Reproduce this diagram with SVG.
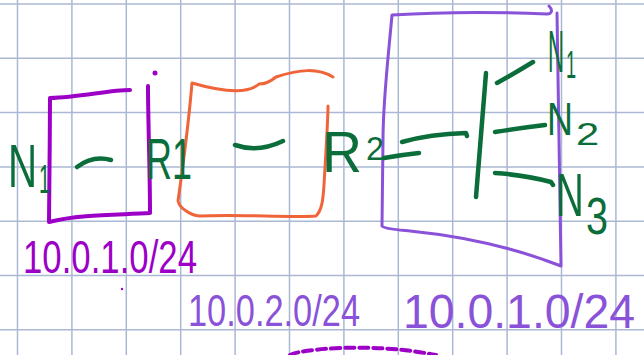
<svg xmlns="http://www.w3.org/2000/svg" width="644" height="355" viewBox="0 0 644 355">
<style>
.grid line{stroke:#aab8d4;stroke-width:1.5}
.ink{fill:none;stroke-linecap:round;stroke-linejoin:round}
.g{stroke:#0b6e3a;stroke-width:4.5}
.p1{stroke:#9c00c6;stroke-width:4}
.p2{stroke:#8a52d8;stroke-width:3}
.or{stroke:#f0643a;stroke-width:3}
.t{font-family:"Liberation Sans",Arial,sans-serif}
.tg{fill:#0b6e3a}
.tp1{fill:#9c00c6}
.tp2{fill:#8a52d8}
</style>
<rect width="644" height="355" fill="#ffffff"/>
<g class="grid" id="grid">
<line x1="17.5" y1="0" x2="17.5" y2="355"/><line x1="71.9" y1="0" x2="71.9" y2="355"/><line x1="126.3" y1="0" x2="126.3" y2="355"/><line x1="180.7" y1="0" x2="180.7" y2="355"/><line x1="235.1" y1="0" x2="235.1" y2="355"/><line x1="289.5" y1="0" x2="289.5" y2="355"/><line x1="343.9" y1="0" x2="343.9" y2="355"/><line x1="398.3" y1="0" x2="398.3" y2="355"/><line x1="452.7" y1="0" x2="452.7" y2="355"/><line x1="507.1" y1="0" x2="507.1" y2="355"/><line x1="561.5" y1="0" x2="561.5" y2="355"/><line x1="615.9" y1="0" x2="615.9" y2="355"/>
<line x1="0" y1="4" x2="644" y2="4"/><line x1="0" y1="58.3" x2="644" y2="58.3"/><line x1="0" y1="112.6" x2="644" y2="112.6"/><line x1="0" y1="166.9" x2="644" y2="166.9"/><line x1="0" y1="221.2" x2="644" y2="221.2"/><line x1="0" y1="275.5" x2="644" y2="275.5"/><line x1="0" y1="329.8" x2="644" y2="329.8"/>
</g>
<g id="net1">
<path class="ink p1" d="M130,90 C110,90 80,97 50,98 C50,140 49,190 49,222 C80,214 120,215 150,213 C150,170 148,120 148,86"/>
<circle cx="155" cy="73" r="2.5" fill="#9c00c6"/>
<circle cx="122" cy="289" r="1.2" fill="#9c00c6"/>
<text class="t tp1" x="23" y="273" font-size="46" textLength="174" lengthAdjust="spacingAndGlyphs">10.0.1.0/24</text>
</g>
<g id="net2">
<path class="ink or" d="M333,77 C318,68 300,69 276,77 C270,82 266,84 259,84 C250,92 230,94 192,83 C188,130 181,180 178,201 C180,210 194,216 200,216 C240,214 290,218 316,216 C322,210 323,200 324,185 C326,150 328,120 328,106"/>
<text class="t tp2" x="188" y="326" font-size="44" textLength="172" lengthAdjust="spacingAndGlyphs">10.0.2.0/24</text>
</g>
<g id="net3">
<path class="ink p2" d="M549,6 C553,10 552,14 547,14 C500,12 440,12 392,15 C388,60 383,100 383,140 L382,226 C384,229 400,230 410,231 C470,237 520,250 561,266 L557,13"/>
<text class="t tp2" x="403" y="328" font-size="48" textLength="232" lengthAdjust="spacingAndGlyphs">10.0.1.0/24</text>
</g>
<g id="node-n1-left">
<text class="t tg" transform="translate(8,187) scale(0.65,1)" font-size="62">N</text>
<text class="t tg" transform="translate(39,193) scale(0.5,1)" font-size="40">1</text>
</g>
<g id="node-r1"><text class="t tg" x="146" y="179" font-size="58" textLength="46" lengthAdjust="spacingAndGlyphs">R1</text></g>
<g id="node-r2">
<text class="t tg" x="322" y="172" font-size="58" textLength="40" lengthAdjust="spacingAndGlyphs">R</text>
<text class="t tg" x="366" y="160" font-size="34" textLength="18" lengthAdjust="spacingAndGlyphs">2</text>
</g>
<g id="node-n1-right">
<text class="t tg" transform="translate(548,72) scale(0.37,1)" font-size="60">N</text>
<text class="t tg" transform="translate(566,78) scale(0.48,1)" font-size="38">1</text>
</g>
<g id="node-n2">
<text class="t tg" transform="translate(547,135) scale(0.78,1)" font-size="46">N</text>
<text class="t tg" transform="translate(576,145) scale(1.3,1)" font-size="32">2</text>
</g>
<g id="node-n3">
<text class="t tg" transform="translate(556,216) scale(0.62,1)" font-size="62">N</text>
<text class="t tg" transform="translate(586,234) scale(0.76,1)" font-size="52">3</text>
</g>
<g id="switch"><path class="ink g" d="M486,73 L476,197"/></g>
<g id="connectors" class="ink g">
<path d="M77,167 Q93,155 111,160"/>
<path d="M235,145 Q258,153 283,141"/>
<path d="M384,158 Q400,155 419,153"/>
<path d="M402,142 Q430,134 466,133 L467,136"/>
<path d="M497,83 Q515,73 533,62"/>
<path d="M495,132 Q520,128 545,125"/>
<path d="M495,173 Q525,175 551,182 L553,185"/>
</g>
<path class="ink p1" stroke-dasharray="9 5" stroke-linecap="butt" d="M290,355 Q300,350 340,348 Q390,346 436,355"/>
</svg>
